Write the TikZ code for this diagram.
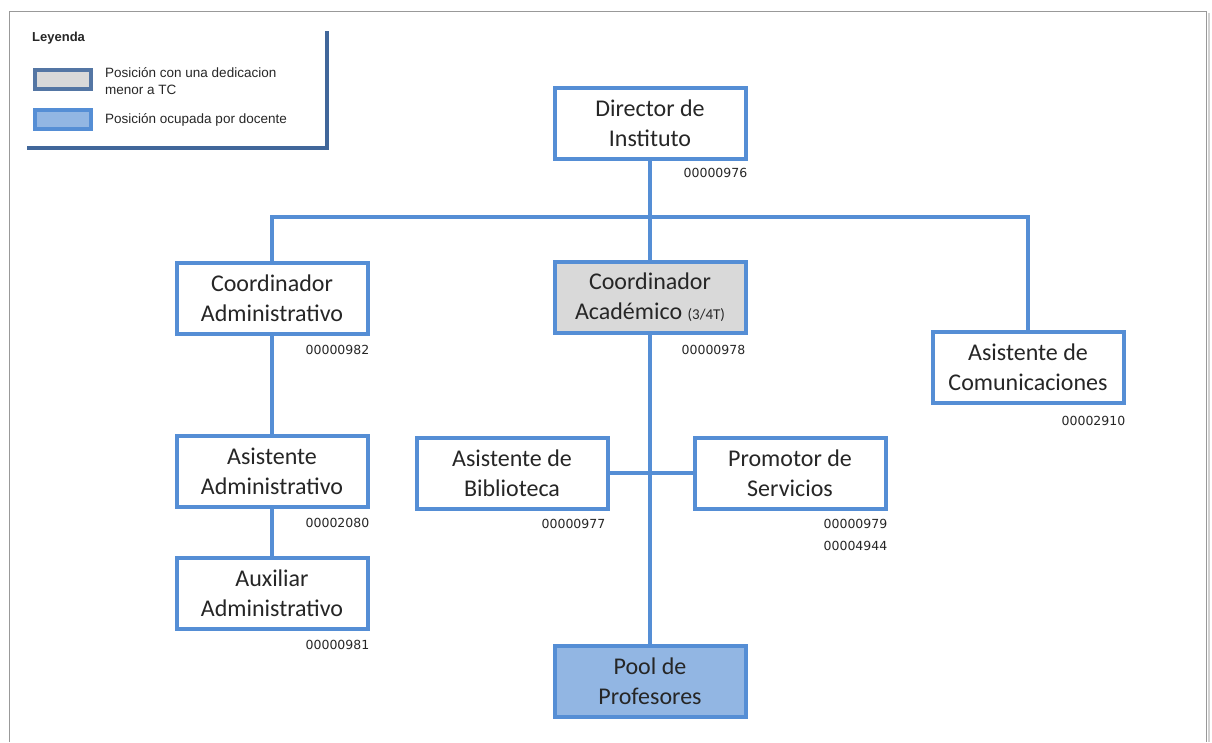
\documentclass[tikz,border=0pt]{standalone}
\usepackage{fontspec}
\setmainfont{Carlito}
\newfontfamily\legendfont{Liberation Sans}
\newfontfamily\codefont{DejaVu Sans}
\usepackage{tikz}
\usetikzlibrary{positioning}
\usepackage{xcolor}
\definecolor{orgblue}{RGB}{85,142,213}
\definecolor{orgfill}{RGB}{146,182,227}
\definecolor{orggray}{RGB}{217,217,217}
\definecolor{legblue}{RGB}{65,103,154}
\definecolor{txtgray}{RGB}{38,38,38}
\tikzstyle{post} = [draw=orgblue, line width=4pt, fill=white, minimum width=191pt, minimum height=71pt, inner sep=0pt, align=center, text=txtgray, font=\fontsize{24}{30}\selectfont]
\tikzstyle{code} = [inner sep=0pt, align=right, text=txtgray, font=\codefont\fontsize{12.5}{22}\selectfont]
\tikzstyle{conn} = [orgblue, line width=4pt]
\tikzstyle{legbox} = [draw, line width=4pt, minimum width=56pt, minimum height=19pt, inner sep=0pt]
\tikzstyle{legtext} = [anchor=west, inner sep=0pt, align=left, text=txtgray, font=\legendfont\fontsize{13.5}{17}\selectfont]

\begin{document}
\begin{tikzpicture}[x=1pt, y=-1pt]
\useasboundingbox (0,0) rectangle (1212,742);
% Page frame
\draw[gray!35, line width=2pt] (1208.5,13) -- (1208.5,742);
\draw[gray!80, line width=1pt] (9,742) |- (1206,11) -- (1206,742);

% Legend
\draw[legblue, line width=4pt] (27,148) -- (327,148) -- (327,31);
\node[legtext, font=\legendfont\bfseries\fontsize{13}{16}\selectfont] (legtitle) at (32,38) {Leyenda};
\node[legbox, draw=legblue!90, fill=orggray] (leggray) at (63,79.5) {};
\node[legbox, draw=orgblue, fill=orgfill] (legblue) at (63,119.5) {};
\node[legtext] (leggraytxt) at (105,81) {Posición con una dedicacion\\menor a TC};
\node[legtext] (legbluetxt) at (105,120) {Posición ocupada por docente};

% Positions
\node[post] (dir) at (650,123) {Director de\\Instituto};
\node[post] (coordadm) at (272,298) {Coordinador\\Administrativo};
\node[post, fill=orggray] (coordacad) at (650,297.5) {Coordinador\\Académico {\fontsize{15}{18}\selectfont(3/4T)}};
\node[post] (asiscom) at (1028,367.5) {Asistente de\\Comunicaciones};
\node[post] (asisadm) at (272,471) {Asistente\\Administrativo};
\node[post] (auxadm) at (272,593.5) {Auxiliar\\Administrativo};
\node[post] (asisbib) at (512,473) {Asistente de\\Biblioteca};
\node[post] (promotor) at (790,473) {Promotor de\\Servicios};
\node[post, fill=orgfill] (pool) at (650,681.5) {Pool de\\Profesores};

% Codes
\node[code, below left=8pt and 0pt of dir.south east] (cdir) {00000976};
\node[code, below left=10pt and 0pt of coordadm.south east] (ccoordadm) {00000982};
\node[code, below left=10pt and 2pt of coordacad.south east] (ccoordacad) {00000978};
\node[code, below left=11pt and 0pt of asiscom.south east] (casiscom) {00002910};
\node[code, below left=10pt and 0pt of asisadm.south east] (casisadm) {00002080};
\node[code, below left=9pt and 0pt of auxadm.south east] (cauxadm) {00000981};
\node[code, below left=9pt and 4pt of asisbib.south east] (casisbib) {00000977};
\node[code, below left=9pt and 0pt of promotor.south east] (cpromotor) {00000979\\00004944};

% Connectors
\coordinate (hub) at (650,217);
\draw[conn] (dir.south) -- (coordacad.north);
\draw[conn] (coordadm.north) |- (hub) -| (asiscom.north);
\draw[conn] (coordadm.south) -- (asisadm.north);
\draw[conn] (asisadm.south) -- (auxadm.north);
\draw[conn] (coordacad.south) -- (pool.north);
\draw[conn] (asisbib.east) -- (promotor.west);
\end{tikzpicture}
\end{document}
